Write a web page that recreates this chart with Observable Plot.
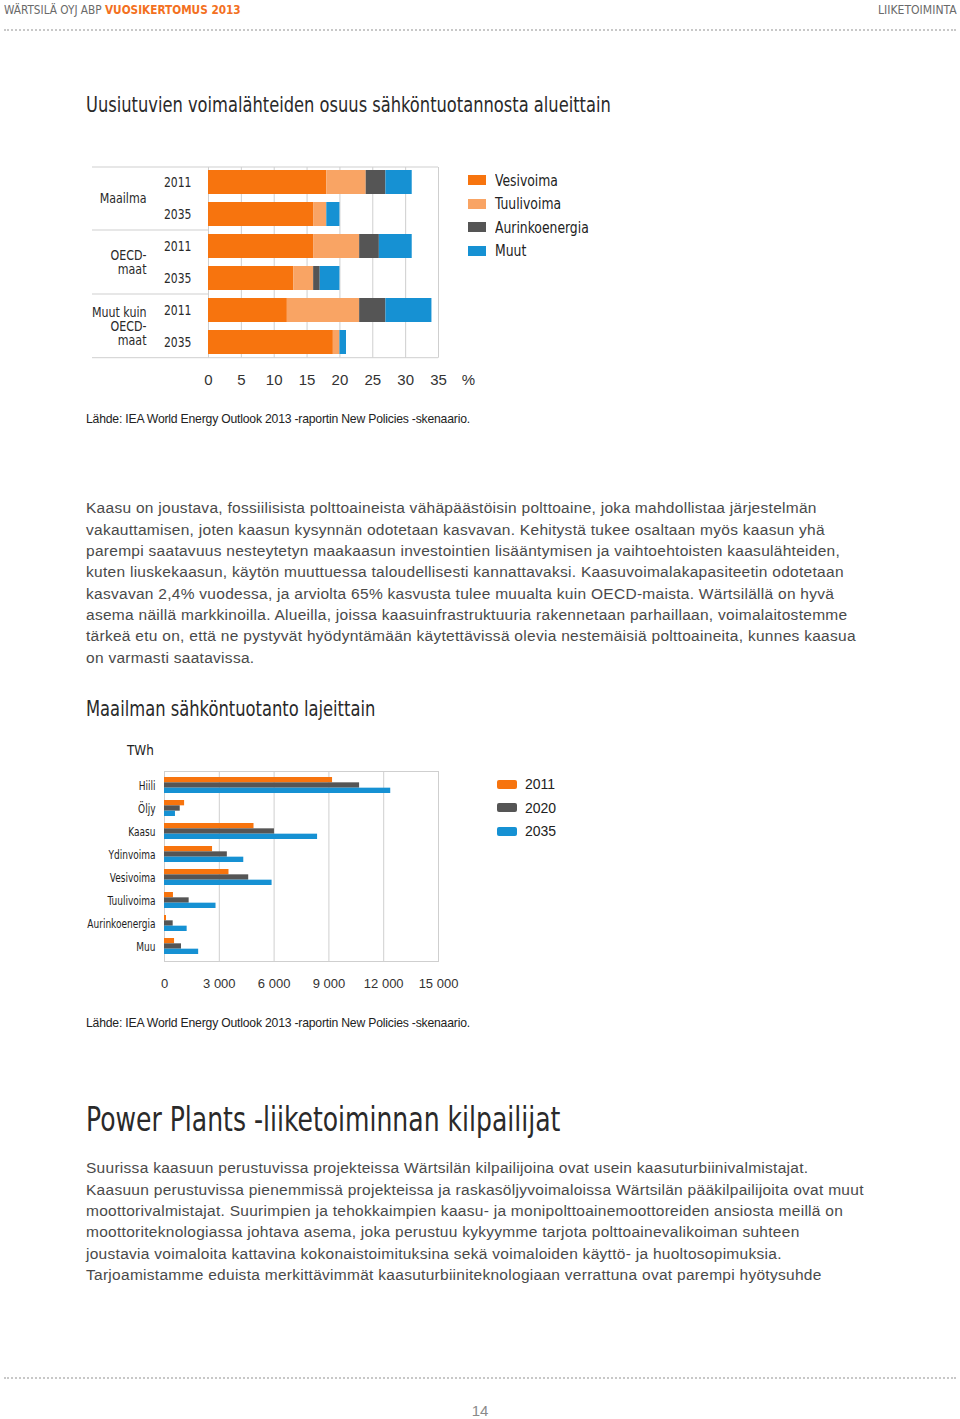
<!DOCTYPE html>
<html><head><meta charset="utf-8">
<script src="https://cdn.jsdelivr.net/npm/d3@7"></script>
<script src="https://cdn.jsdelivr.net/npm/@observablehq/plot@0.6"></script>
<style>
body{margin:0;width:960px;height:1419px;position:relative;background:#fff;font-family:"Liberation Sans",Arial,sans-serif;overflow:hidden;color:#444}
.abs{position:absolute;white-space:nowrap}
.narrow{font-family:"Liberation Sans Narrow","DejaVu Sans Condensed","Liberation Sans",sans-serif}
.dots{position:absolute;left:4px;width:952px;height:0;border-top:2px dotted #c8c8c8}
.para{position:absolute;left:86px;font-size:15.5px;letter-spacing:0.28px;line-height:21.35px;color:#4a4a4a;white-space:nowrap}
.source{position:absolute;left:86px;font-size:12.2px;line-height:16px;color:#222;letter-spacing:-0.2px;white-space:nowrap}
.title{position:absolute;left:86px;color:#2a2a2a;white-space:nowrap;transform-origin:0 50%}
.leg{position:absolute;white-space:nowrap;color:#222}
.leg .row{height:23.5px;display:flex;align-items:center}
.leg .sw{display:inline-block;flex:none}
.leg .sq{display:inline-block;transform-origin:0 50%}
</style>
</head><body>
<div class="abs narrow" style="left:4px;top:0;line-height:20px;font-size:13px;color:#6a6a6a;transform:scaleX(0.9);transform-origin:0 50%">WÄRTSILÄ OYJ ABP <b style="color:#f37021">VUOSIKERTOMUS 2013</b></div>
<div class="abs narrow" style="right:3px;top:0;line-height:20px;font-size:13px;color:#6a6a6a;transform:scaleX(0.93);transform-origin:100% 50%">LIIKETOIMINTA</div>
<div class="dots" style="top:29px"></div>

<div class="title narrow" style="top:90px;line-height:30px;font-size:21px;transform:scaleX(0.862)">Uusiutuvien voimalähteiden osuus sähköntuotannosta alueittain</div>
<div id="chart1" class="abs" style="left:86px;top:160px"></div>
<div class="leg narrow" id="leg1" style="left:468px;top:168.25px;font-size:16px"></div>
<div class="source" style="top:411px">Lähde: IEA World Energy Outlook 2013 -raportin New Policies -skenaario.</div>

<div class="para" style="top:497.3px">Kaasu on joustava, fossiilisista polttoaineista vähäpäästöisin polttoaine, joka mahdollistaa järjestelmän<br>vakauttamisen, joten kaasun kysynnän odotetaan kasvavan. Kehitystä tukee osaltaan myös kaasun yhä<br>parempi saatavuus nesteytetyn maakaasun investointien lisääntymisen ja vaihtoehtoisten kaasulähteiden,<br>kuten liuskekaasun, käytön muuttuessa taloudellisesti kannattavaksi. Kaasuvoimalakapasiteetin odotetaan<br>kasvavan 2,4% vuodessa, ja arviolta 65% kasvusta tulee muualta kuin OECD-maista. Wärtsilällä on hyvä<br>asema näillä markkinoilla. Alueilla, joissa kaasuinfrastruktuuria rakennetaan parhaillaan, voimalaitostemme<br>tärkeä etu on, että ne pystyvät hyödyntämään käytettävissä olevia nestemäisiä polttoaineita, kunnes kaasua<br>on varmasti saatavissa.</div>

<div class="title narrow" style="top:694px;line-height:30px;font-size:21px;transform:scaleX(0.865)">Maailman sähköntuotanto lajeittain</div>
<div class="abs narrow" style="left:127px;top:741px;line-height:18px;font-size:14.5px;color:#222;transform:scaleX(0.92);transform-origin:0 50%">TWh</div>
<div id="chart2" class="abs" style="left:86px;top:760px"></div>
<div class="leg" id="leg2" style="left:497px;top:772.25px;font-size:14px"></div>
<div class="source" style="top:1015px">Lähde: IEA World Energy Outlook 2013 -raportin New Policies -skenaario.</div>

<div class="title narrow" style="top:1100px;line-height:40px;font-size:33px;transform:scaleX(0.845)">Power Plants -liiketoiminnan kilpailijat</div>
<div class="para" style="top:1157.3px">Suurissa kaasuun perustuvissa projekteissa Wärtsilän kilpailijoina ovat usein kaasuturbiinivalmistajat.<br>Kaasuun perustuvissa pienemmissä projekteissa ja raskasöljyvoimaloissa Wärtsilän pääkilpailijoita ovat muut<br>moottorivalmistajat. Suurimpien ja tehokkaimpien kaasu- ja monipolttoainemoottoreiden ansiosta meillä on<br>moottoriteknologiassa johtava asema, joka perustuu kykyymme tarjota polttoainevalikoiman suhteen<br>joustavia voimaloita kattavina kokonaistoimituksina sekä voimaloiden käyttö- ja huoltosopimuksia.<br>Tarjoamistamme eduista merkittävimmät kaasuturbiiniteknologiaan verrattuna ovat parempi hyötysuhde</div>

<div class="dots" style="top:1377px"></div>
<div class="abs" style="left:0;width:960px;text-align:center;top:1402px;line-height:18px;font-size:15px;color:#8a8a8a">14</div>

<script>
// ---------- Chart 1 data ----------
const regions = ["Maailma", "OECD-\nmaat", "Muut kuin\nOECD-\nmaat"];
const years1 = ["2011", "2035"];
const sources = ["Vesivoima", "Tuulivoima", "Aurinkoenergia", "Muut"];
const vesivoima      = [18, 16, 16, 13, 12, 19];
const tuulivoima     = [6, 2, 7, 3, 11, 1];
const aurinkoenergia = [3, 0, 3, 1, 4, 0];
const muut           = [4, 2, 5, 3, 7, 1];
const xTicks1 = [0, 5, 10, 15, 20, 25, 30, 35];
const unit1 = "%";

// ---------- Chart 2 data ----------
const categories2 = ["Hiili", "Öljy", "Kaasu", "Ydinvoima", "Vesivoima", "Tuulivoima", "Aurinkoenergia", "Muu"];
const years2 = ["2011", "2020", "2035"];
const twh2011 = [9200, 1100, 4900, 2630, 3530, 490, 110, 550];
const twh2020 = [10680, 860, 6020, 3440, 4610, 1350, 475, 930];
const twh2035 = [12385, 600, 8380, 4340, 5890, 2820, 1240, 1870];
const xTicks2 = [0, 3000, 6000, 9000, 12000, 15000];

const ORANGE = "#f7740e", LIGHT = "#f9a464", GRAY = "#555555", BLUE = "#1691d3";
const NARROW = '"Liberation Sans Narrow","DejaVu Sans Condensed","Liberation Sans",sans-serif';
const ARIAL = '"Liberation Sans",Arial,sans-serif';
const GRID = "#cfcfcf";

// squeeze horizontally the given labels of an svg (condensed look)
function squeeze(svg, labels, f) {
  const set = new Set(labels.map(String));
  d3.select(svg).selectAll("text").each(function () {
    const el = d3.select(this);
    if (!set.has(this.textContent) || this.dataset.sq) return;
    this.dataset.sq = 1;
    const t = el.attr("transform");
    if (t) el.attr("transform", t + ` scale(${f},1)`);
    else {
      const x = +el.attr("x") || 0, y = +el.attr("y") || 0;
      el.attr("transform", `translate(${x},${y}) scale(${f},1) translate(${-x},${-y})`);
    }
  });
}

// ---------- tidy tables ----------
const rows = regions.flatMap((r, i) => years1.map((y, j) => ({key: i + "|" + y, region: r, year: y, idx: i * 2 + j})));
const seriesBySource = [vesivoima, tuulivoima, aurinkoenergia, muut];
const data1 = rows.flatMap(row => sources.map((s, k) => ({key: row.key, source: s, value: seriesBySource[k][row.idx]})));

const seriesByYear = [twh2011, twh2020, twh2035];
const data2 = years2.flatMap((yr, j) => categories2.map((c, i) => ({category: c, year: yr, value: seriesByYear[j][i]})));

// ---------- Chart 1 ----------
const W1 = 394, H1 = 235, M1 = {top: 7, bottom: 37.3, left: 122, right: 42};
function chart1(step) {
  return Plot.plot({
    width: W1, height: H1,
    marginTop: M1.top, marginBottom: M1.bottom, marginLeft: M1.left, marginRight: M1.right,
    x: {domain: [0, 35], axis: null},
    y: {domain: rows.map(r => r.key), axis: null, paddingInner: 0.24, paddingOuter: 0.08},
    color: {domain: sources, range: [ORANGE, LIGHT, GRAY, BLUE]},
    style: {fontFamily: NARROW, fontSize: "14px", color: "#333", background: "transparent", overflow: "visible"},
    marks: [
      Plot.ruleX(xTicks1, {x: d => d, stroke: GRID}),
      Plot.barX(data1, {x: "value", y: "key", fill: "source"}),
      Plot.text(rows, {y: "key", text: "year", frameAnchor: "left", textAnchor: "end", dx: -17, fontFamily: NARROW, fontSize: 14, fill: "#2a2a2a"}),
      Plot.text(rows.filter(r => r.year === "2011"), {y: "key", text: "region", frameAnchor: "left", textAnchor: "end", dx: -62, dy: step / 2, lineHeight: 1, fontFamily: NARROW, fontSize: 14, fill: "#2a2a2a"}),
      Plot.text(xTicks1, {x: d => d, text: d => String(d), frameAnchor: "bottom", lineAnchor: "middle", dy: 22, fontFamily: ARIAL, fontSize: 15, fill: "#333"}),
      Plot.text([unit1], {x: () => 40, text: d => d, frameAnchor: "bottom", lineAnchor: "middle", dy: 22, dx: -3, fontFamily: ARIAL, fontSize: 15, fill: "#333"})
    ]
  });
}
const probe1 = chart1(0);
const ys1 = probe1.scale("y");
const step1 = ys1.apply(rows[1].key) - ys1.apply(rows[0].key);
const c1 = chart1(step1);
document.getElementById("chart1").appendChild(c1);
{
  const ys = c1.scale("y");
  const bw = ys.bandwidth;
  const svg = d3.select(c1);
  const xl = 92 - 86, xr = W1 - M1.right;
  const lines = [M1.top, H1 - M1.bottom];
  rows.forEach((r, i) => { if (r.year === "2035" && i < rows.length - 1) lines.push(ys.apply(r.key) + bw + (step1 - bw) / 2); });
  lines.forEach((y, i) => {
    svg.append("line").attr("x1", xl).attr("x2", i < 2 ? xr : M1.left).attr("y1", y).attr("y2", y).attr("stroke", GRID);
  });
  squeeze(c1, years1, 0.86);
  squeeze(c1, regions.filter(r => !r.includes("\n")), 0.88);
  d3.select(c1).selectAll("tspan").each(function () {
    const p = this.parentNode;
    if (p.dataset.sq) return;
    p.dataset.sq = 1;
    const t = d3.select(p).attr("transform");
    if (t) d3.select(p).attr("transform", t + " scale(0.88,1)");
  });
}

// ---------- Chart 2 ----------
const W2 = 394, H2 = 240, M2 = {top: 11, bottom: 39, left: 78, right: 42};
function chart2(bw) {
  return Plot.plot({
    width: W2, height: H2,
    marginTop: M2.top, marginBottom: M2.bottom, marginLeft: M2.left, marginRight: M2.right,
    x: {domain: [0, 15000], axis: null},
    y: {domain: categories2, axis: null, paddingInner: 0.286, paddingOuter: 0.126},
    color: {domain: years2, range: [ORANGE, GRAY, BLUE]},
    style: {fontFamily: NARROW, fontSize: "13px", color: "#333", background: "transparent", overflow: "visible"},
    marks: [
      Plot.ruleX(xTicks2, {x: d => d, stroke: GRID}),
      Plot.frame({stroke: GRID}),
      ...years2.map((yr, j) => Plot.barX(data2.filter(d => d.year === yr), {
        x: "value", y: "category", fill: "year", insetTop: j * bw / 3, insetBottom: (2 - j) * bw / 3
      })),
      Plot.text(categories2, {y: d => d, text: d => d, frameAnchor: "left", textAnchor: "end", dx: -9, fontFamily: NARROW, fontSize: 13, fill: "#1e1e1e"}),
      Plot.text(xTicks2, {x: d => d, text: d => d === 0 ? "0" : d3.format(",")(d).replace(",", " "), frameAnchor: "bottom", lineAnchor: "middle", dy: 22, fontFamily: ARIAL, fontSize: 13, fill: "#333"})
    ]
  });
}
const probe2 = chart2(0);
const bw2 = probe2.scale("y").bandwidth;
const c2 = chart2(bw2);
document.getElementById("chart2").appendChild(c2);
squeeze(c2, categories2, 0.77);

// ---------- Legends ----------
const leg1 = document.getElementById("leg1");
sources.forEach((s, i) => {
  const row = document.createElement("div"); row.className = "row";
  row.innerHTML = `<span class="sw" style="width:18px;height:10px;background:${[ORANGE, LIGHT, GRAY, BLUE][i]};margin-right:9px"></span><span class="sq" style="transform:scaleX(0.86)">${s}</span>`;
  leg1.appendChild(row);
});
const leg2 = document.getElementById("leg2");
years2.forEach((y, i) => {
  const row = document.createElement("div"); row.className = "row";
  row.innerHTML = `<span class="sw" style="width:20px;height:9px;border-radius:2px;background:${[ORANGE, GRAY, BLUE][i]};margin-right:8px"></span><span>${y}</span>`;
  leg2.appendChild(row);
});
</script>
</body></html>
